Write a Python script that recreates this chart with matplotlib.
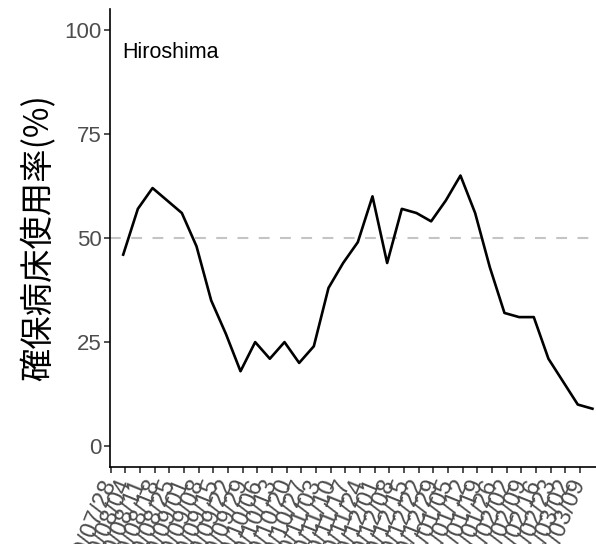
import matplotlib
matplotlib.use("Agg")
import matplotlib.pyplot as plt
import matplotlib.dates as mdates
import numpy as np
import pandas as pd

# Data
tick_dates = pd.date_range("2020-07-28", periods=33, freq="7D")
data_dates = pd.date_range("2020-08-03", periods=33, freq="7D")
occupancy = [46, 57, 62, 59, 56, 48, 35, 27, 18, 25, 21, 25, 20, 24, 38, 44,
             49, 60, 44, 57, 56, 54, 59, 65, 56, 43, 32, 31, 31, 21, 15.5, 10, 9]
tick_labels = [d.strftime("%Y/%m/%d") for d in tick_dates]
y_ticks = [0, 25, 50, 75, 100]
ref_level = 50
region = "Hiroshima"
ylabel = "確保病床使用率(%)"

fig = plt.figure(figsize=(5.96, 5.44), dpi=100)
ax = fig.add_axes([110 / 596, (544 - 467) / 544, 1 - 110 / 596, (467 - 9) / 544])

ax.axhline(ref_level, color="#C4C4C4", lw=1.5, dashes=(5.2, 5.0), zorder=1)
ax.plot(data_dates, occupancy, color="black", lw=1.9, zorder=2)

x0 = mdates.date2num(tick_dates[0])
ax.set_xlim(x0 - 0.3, x0 + 231.7)
ax.set_ylim(-5, 105)

ax.set_yticks(y_ticks)
ax.set_yticklabels([str(v) for v in y_ticks], fontsize=16, color="#4D4D4D",
                   family="Liberation Sans")
ax.set_xticks(mdates.date2num(tick_dates))
ax.set_xticklabels(tick_labels, rotation=68, ha="right", va="center",
                   rotation_mode="anchor", fontsize=17, color="#4D4D4D",
                   family="Liberation Sans")

for s in ["top", "right"]:
    ax.spines[s].set_visible(False)
for s in ["left", "bottom"]:
    ax.spines[s].set_linewidth(1.2)
    ax.spines[s].set_color("black")
ax.tick_params(axis="y", length=4, width=1.2, color="#333333", pad=2)
ax.tick_params(axis="x", length=4, width=1.2, color="#333333", pad=5)

ax.set_ylabel(ylabel, fontsize=24, family=["Noto Sans CJK JP", "DejaVu Sans"],
              color="black", labelpad=6)

ax.text(0.025, 0.906, region, transform=ax.transAxes, fontsize=15.5,
        family="Liberation Sans", color="black", ha="left", va="center")

fig.savefig("out.png", dpi=100)
